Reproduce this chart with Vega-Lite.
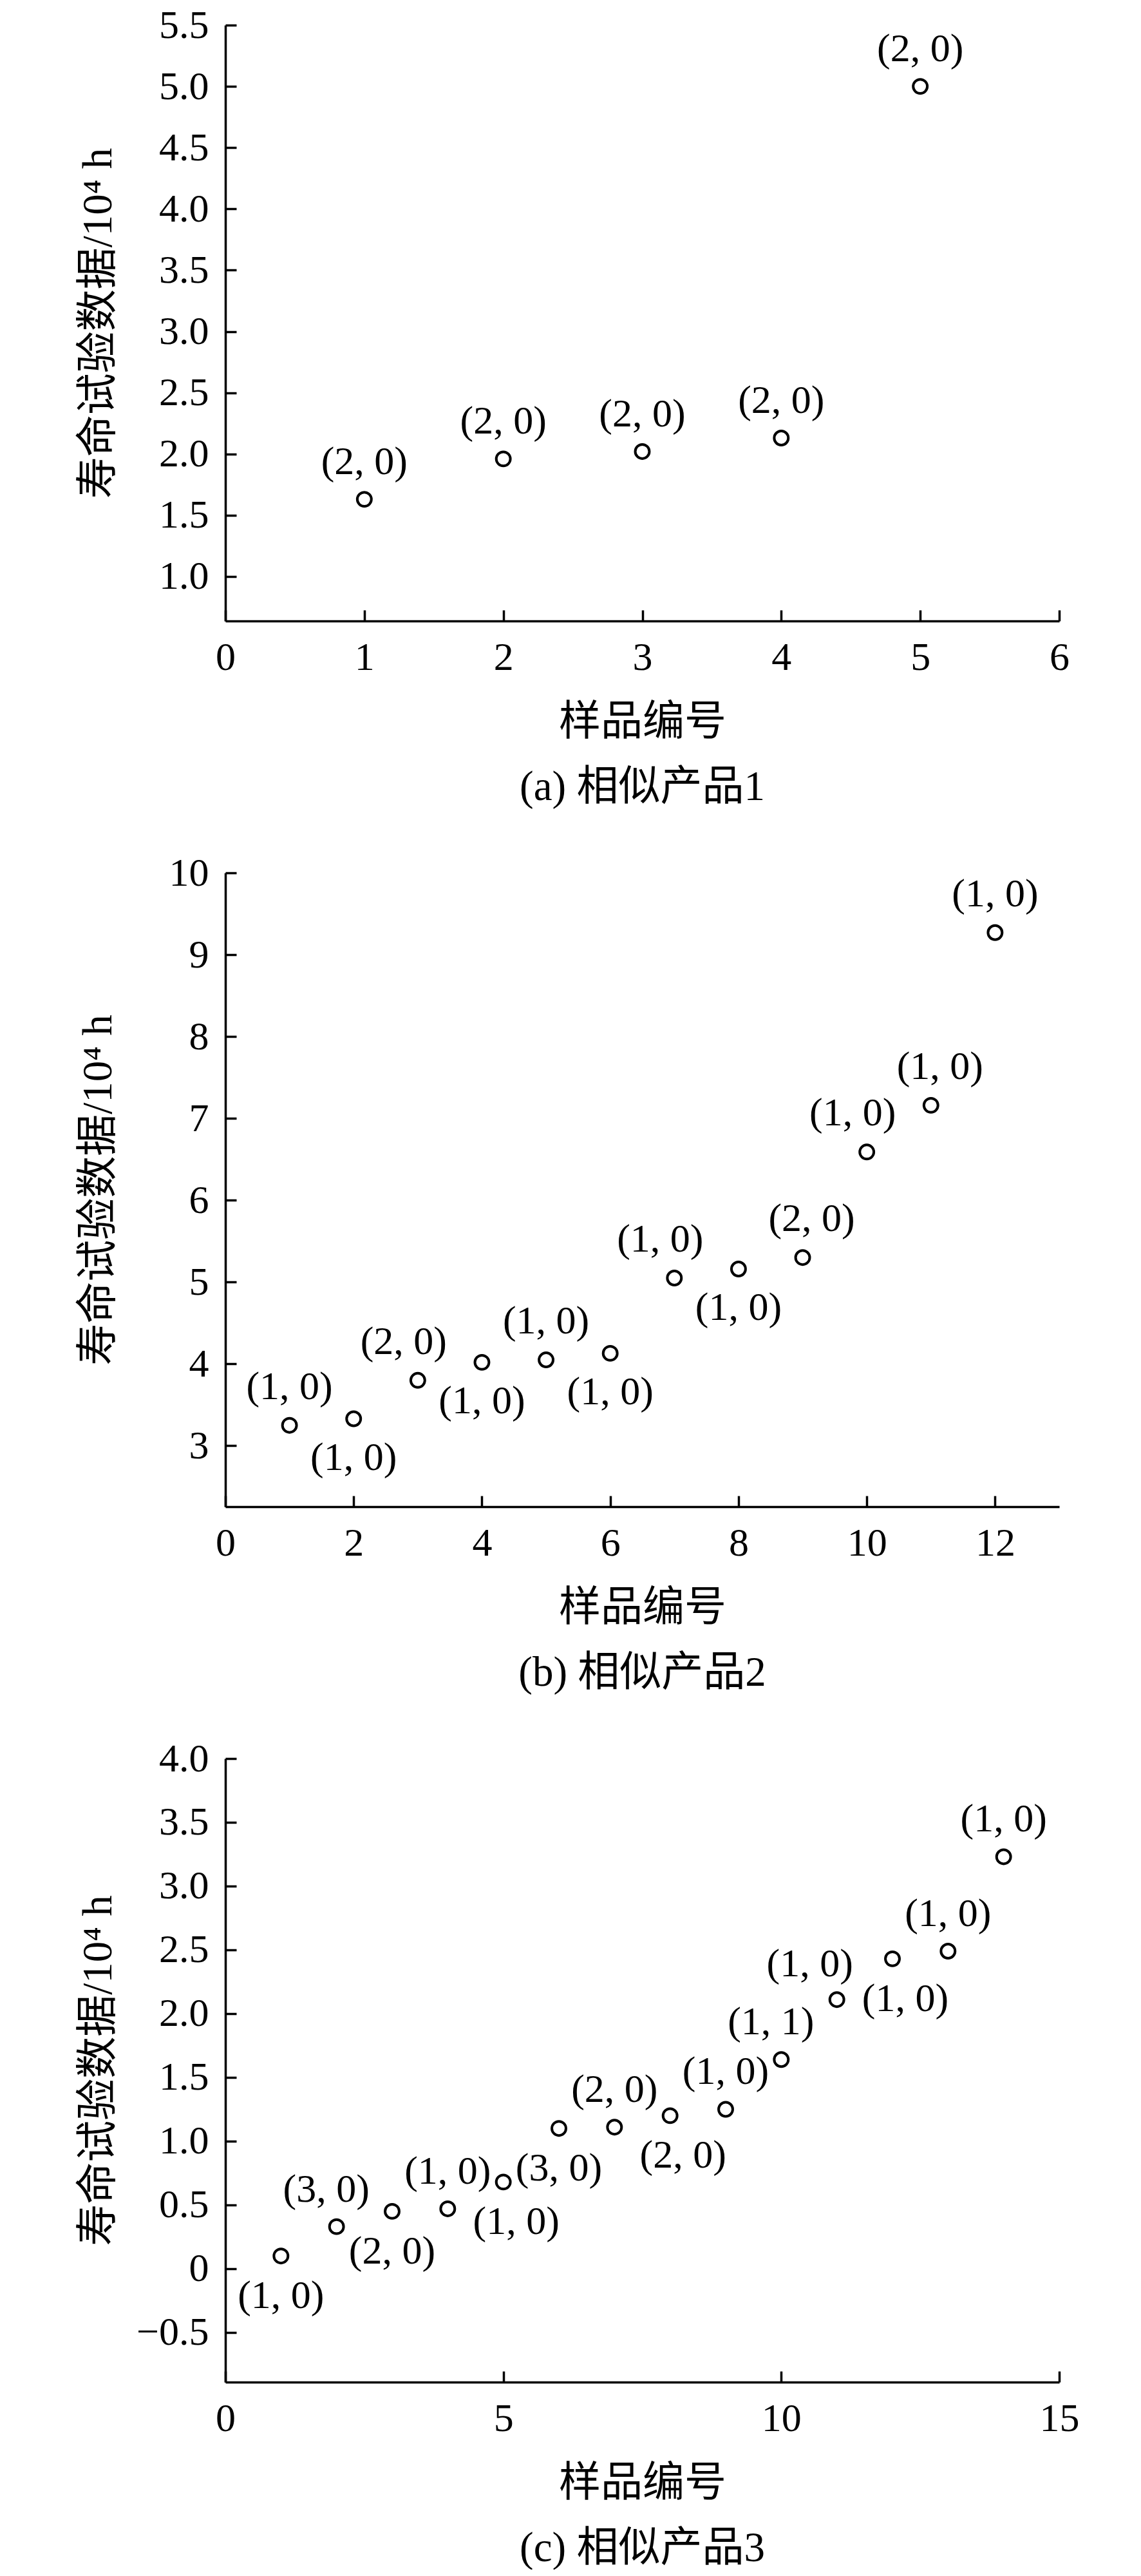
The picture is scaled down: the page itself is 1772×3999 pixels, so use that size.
{
  "$schema": "https://vega.github.io/schema/vega-lite/v6.json",
  "padding": {"left": 119, "top": 8, "right": 5, "bottom": 0},
  "spacing": 69,
  "datasets": {
    "a": [
      {"n": 1, "v": 1.63, "label": "(2, 0)", "pos": "above"},
      {"n": 2, "v": 1.96, "label": "(2, 0)", "pos": "above"},
      {"n": 3, "v": 2.02, "label": "(2, 0)", "pos": "above"},
      {"n": 4, "v": 2.13, "label": "(2, 0)", "pos": "above"},
      {"n": 5, "v": 5.0, "label": "(2, 0)", "pos": "above"}
    ],
    "b": [
      {"n": 1, "v": 3.25, "label": "(1, 0)", "pos": "above"},
      {"n": 2, "v": 3.33, "label": "(1, 0)", "pos": "below"},
      {"n": 3, "v": 3.8, "label": "(2, 0)", "pos": "above-left"},
      {"n": 4, "v": 4.02, "label": "(1, 0)", "pos": "below"},
      {"n": 5, "v": 4.05, "label": "(1, 0)", "pos": "above"},
      {"n": 6, "v": 4.13, "label": "(1, 0)", "pos": "below"},
      {"n": 7, "v": 5.05, "label": "(1, 0)", "pos": "above-left"},
      {"n": 8, "v": 5.16, "label": "(1, 0)", "pos": "below"},
      {"n": 9, "v": 5.3, "label": "(2, 0)", "pos": "above-right"},
      {"n": 10, "v": 6.59, "label": "(1, 0)", "pos": "above-left"},
      {"n": 11, "v": 7.16, "label": "(1, 0)", "pos": "above-right"},
      {"n": 12, "v": 9.27, "label": "(1, 0)", "pos": "above"}
    ],
    "c": [
      {"n": 1, "v": 0.1, "label": "(1, 0)", "pos": "below"},
      {"n": 2, "v": 0.33, "label": "(3, 0)", "pos": "above-left"},
      {"n": 3, "v": 0.45, "label": "(2, 0)", "pos": "below"},
      {"n": 4, "v": 0.47, "label": "(1, 0)", "pos": "above"},
      {"n": 5, "v": 0.68, "label": "(1, 0)", "pos": "below-right"},
      {"n": 6, "v": 1.1, "label": "(3, 0)", "pos": "below"},
      {"n": 7, "v": 1.11, "label": "(2, 0)", "pos": "above"},
      {"n": 8, "v": 1.2, "label": "(2, 0)", "pos": "below-right"},
      {"n": 9, "v": 1.25, "label": "(1, 0)", "pos": "above"},
      {"n": 10, "v": 1.64, "label": "(1, 1)", "pos": "above-left"},
      {"n": 11, "v": 2.11, "label": "(1, 0)", "pos": "above-far-left"},
      {"n": 12, "v": 2.43, "label": "(1, 0)", "pos": "below-right"},
      {"n": 13, "v": 2.49, "label": "(1, 0)", "pos": "above"},
      {"n": 14, "v": 3.23, "label": "(1, 0)", "pos": "above"}
    ]
  },
  "vconcat": [
    {
      "width": 1295,
      "height": 925,
      "data": {"name": "a"},
      "title": {"text": "(a) 相似产品1"},
      "encoding": {
        "x": {
          "field": "n",
          "type": "quantitative",
          "scale": {"domain": [0, 6], "nice": false, "zero": false},
          "axis": {"values": [0, 1, 2, 3, 4, 5, 6], "title": "样品编号"}
        },
        "y": {
          "field": "v",
          "type": "quantitative",
          "scale": {"domain": [0.637, 5.5], "nice": false, "zero": false},
          "axis": {
            "values": [1, 1.5, 2, 2.5, 3, 3.5, 4, 4.5, 5, 5.5],
            "format": ".1f",
            "title": "寿命试验数据/10⁴ h"
          }
        }
      },
      "layer": [
        {"mark": {"type": "point", "shape": "circle", "filled": false, "stroke": "black", "strokeWidth": 4, "size": 480, "opacity": 1}},
        {
          "transform": [{"filter": "datum.pos === 'above'"}],
          "mark": {"type": "text", "dy": -58},
          "encoding": {"text": {"field": "label"}}
        }
      ]
    },
    {
      "width": 1295,
      "height": 984,
      "data": {"name": "b"},
      "title": {"text": "(b) 相似产品2"},
      "encoding": {
        "x": {
          "field": "n",
          "type": "quantitative",
          "scale": {"domain": [0, 13], "nice": false, "zero": false},
          "axis": {"values": [0, 2, 4, 6, 8, 10, 12], "title": "样品编号"}
        },
        "y": {
          "field": "v",
          "type": "quantitative",
          "scale": {"domain": [2.256, 10], "nice": false, "zero": false},
          "axis": {
            "values": [3, 4, 5, 6, 7, 8, 9, 10],
            "format": "d",
            "title": "寿命试验数据/10⁴ h"
          }
        }
      },
      "layer": [
        {"mark": {"type": "point", "shape": "circle", "filled": false, "stroke": "black", "strokeWidth": 4, "size": 480, "opacity": 1}},
        {
          "transform": [{"filter": "datum.pos === 'above'"}],
          "mark": {"type": "text", "dy": -60},
          "encoding": {"text": {"field": "label"}}
        },
        {
          "transform": [{"filter": "datum.pos === 'above-left'"}],
          "mark": {"type": "text", "dy": -60, "dx": -22},
          "encoding": {"text": {"field": "label"}}
        },
        {
          "transform": [{"filter": "datum.pos === 'above-right'"}],
          "mark": {"type": "text", "dy": -60, "dx": 14},
          "encoding": {"text": {"field": "label"}}
        },
        {
          "transform": [{"filter": "datum.pos === 'below'"}],
          "mark": {"type": "text", "dy": 60},
          "encoding": {"text": {"field": "label"}}
        }
      ]
    },
    {
      "width": 1295,
      "height": 968,
      "data": {"name": "c"},
      "title": {"text": "(c) 相似产品3"},
      "encoding": {
        "x": {
          "field": "n",
          "type": "quantitative",
          "scale": {"domain": [0, 15], "nice": false, "zero": false},
          "axis": {"values": [0, 5, 10, 15], "title": "样品编号"}
        },
        "y": {
          "field": "v",
          "type": "quantitative",
          "scale": {"domain": [-0.889, 4], "nice": false, "zero": false},
          "axis": {
            "values": [-0.5, 0, 0.5, 1, 1.5, 2, 2.5, 3, 3.5, 4],
            "labelExpr": "datum.value === 0 ? '0' : format(datum.value, '.1f')",
            "title": "寿命试验数据/10⁴ h"
          }
        }
      },
      "layer": [
        {"mark": {"type": "point", "shape": "circle", "filled": false, "stroke": "black", "strokeWidth": 4, "size": 480, "opacity": 1}},
        {
          "transform": [{"filter": "datum.pos === 'above'"}],
          "mark": {"type": "text", "dy": -58},
          "encoding": {"text": {"field": "label"}}
        },
        {
          "transform": [{"filter": "datum.pos === 'above-left'"}],
          "mark": {"type": "text", "dy": -58, "dx": -16},
          "encoding": {"text": {"field": "label"}}
        },
        {
          "transform": [{"filter": "datum.pos === 'above-far-left'"}],
          "mark": {"type": "text", "dy": -55, "dx": -42},
          "encoding": {"text": {"field": "label"}}
        },
        {
          "transform": [{"filter": "datum.pos === 'below'"}],
          "mark": {"type": "text", "dy": 62},
          "encoding": {"text": {"field": "label"}}
        },
        {
          "transform": [{"filter": "datum.pos === 'below-right'"}],
          "mark": {"type": "text", "dy": 62, "dx": 20},
          "encoding": {"text": {"field": "label"}}
        }
      ]
    }
  ],
  "config": {
    "font": "Liberation Serif, Noto Sans CJK SC",
    "view": {"stroke": null},
    "text": {"font": "Liberation Serif", "fontSize": 62, "color": "black", "align": "center", "baseline": "middle"},
    "title": {
      "orient": "bottom",
      "anchor": "middle",
      "frame": "group",
      "font": "Liberation Serif, Noto Sans CJK SC",
      "fontSize": 65,
      "fontWeight": "normal",
      "color": "black",
      "offset": 38
    },
    "axis": {
      "grid": false,
      "domainColor": "black",
      "domainWidth": 3.5,
      "tickColor": "black",
      "tickWidth": 3.5,
      "tickSize": -17,
      "labelFont": "Liberation Serif",
      "labelFontSize": 62,
      "labelColor": "black",
      "labelPadding": 43,
      "labelFlush": false,
      "labelOverlap": false,
      "titleFont": "Liberation Serif, Noto Sans CJK SC",
      "titleFontSize": 65,
      "titleFontWeight": "normal",
      "titleColor": "black"
    },
    "axisY": {"titleX": -198, "titleBaseline": "middle", "titleAlign": "center"},
    "axisX": {"titleY": 156, "titleBaseline": "middle"}
  }
}
